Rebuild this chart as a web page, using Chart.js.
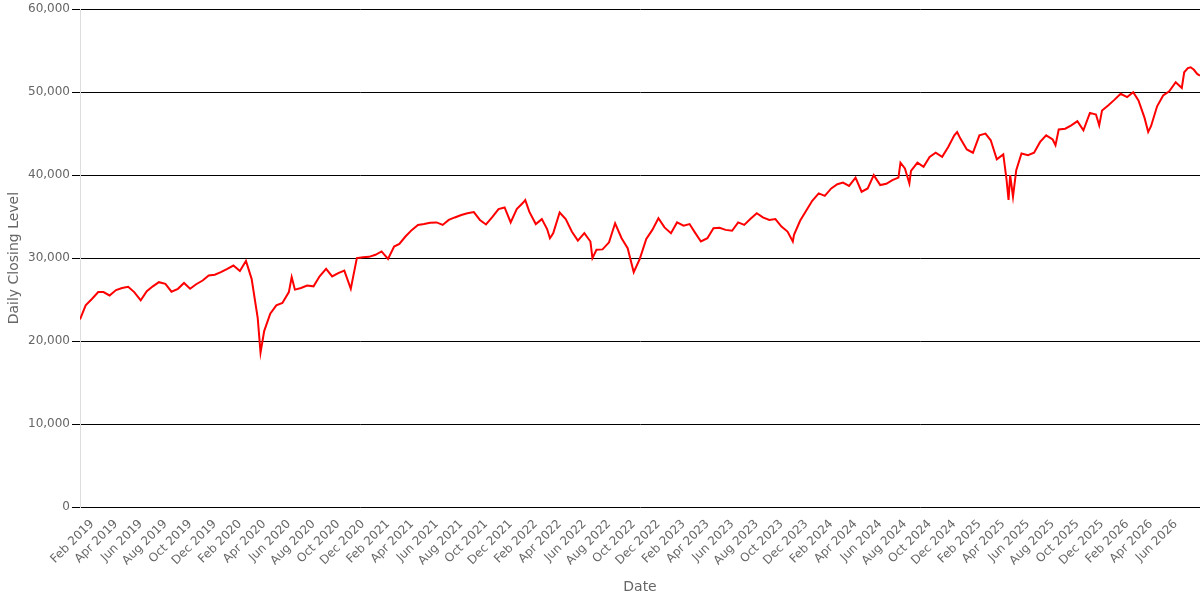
<!DOCTYPE html>
<html>
<head>
<meta charset="utf-8">
<script src="https://cdn.jsdelivr.net/npm/chart.js@4.4.1/dist/chart.umd.min.js"></script>
<style>
  html, body { margin: 0; padding: 0; background: #fff; }
  #wrap { width: 1200px; height: 600px; }
</style>
</head>
<body>
<div id="wrap"><canvas id="grafico"></canvas></div>
<script>
// fechas (semi-mensuales, con algunos puntos extra en los extremos) y cierres
const dates = [
  '2019-01-02','2019-01-16','2019-02-01','2019-02-16','2019-03-01','2019-03-16','2019-04-01','2019-04-16',
  '2019-05-01','2019-05-16','2019-06-01','2019-06-16','2019-07-01','2019-07-16','2019-08-01','2019-08-16',
  '2019-09-01','2019-09-16','2019-10-01','2019-10-16','2019-11-01','2019-11-16','2019-12-01','2019-12-16',
  '2020-01-01','2020-01-16','2020-02-01','2020-02-16','2020-03-01','2020-03-16','2020-03-23','2020-04-01',
  '2020-04-16','2020-05-01','2020-05-16','2020-06-01','2020-06-08','2020-06-16','2020-07-01','2020-07-16',
  '2020-08-01','2020-08-16','2020-09-01','2020-09-16','2020-10-01','2020-10-16','2020-11-01','2020-11-16',
  '2020-12-01','2020-12-16',
  '2021-01-01','2021-01-16','2021-02-01','2021-02-16','2021-03-01','2021-03-16','2021-04-01','2021-04-16',
  '2021-05-01','2021-05-16','2021-06-01','2021-06-16','2021-07-01','2021-07-16','2021-08-01','2021-08-16',
  '2021-09-01','2021-09-16','2021-10-01','2021-10-16','2021-11-01','2021-11-16','2021-12-01','2021-12-16',
  '2022-01-01','2022-01-06','2022-01-16','2022-02-01','2022-02-16','2022-03-01','2022-03-08','2022-03-16',
  '2022-04-01','2022-04-16','2022-05-01','2022-05-16','2022-06-01','2022-06-16','2022-06-21','2022-07-01',
  '2022-07-16','2022-08-01','2022-08-16','2022-09-01','2022-09-16','2022-10-01','2022-10-16','2022-11-01',
  '2022-11-16','2022-12-01','2022-12-16',
  '2023-01-01','2023-01-16','2023-02-01','2023-02-16','2023-03-01','2023-03-16','2023-04-01','2023-04-16',
  '2023-05-01','2023-05-16','2023-06-01','2023-06-16','2023-07-01','2023-07-16','2023-08-01','2023-08-16',
  '2023-09-01','2023-09-16','2023-10-01','2023-10-16','2023-10-29','2023-11-01','2023-11-16','2023-12-01',
  '2023-12-16',
  '2024-01-01','2024-01-16','2024-02-01','2024-02-16','2024-03-01','2024-03-16','2024-04-01','2024-04-16',
  '2024-05-01','2024-05-16','2024-06-01','2024-06-16','2024-07-01','2024-07-16','2024-07-21','2024-08-01',
  '2024-08-12','2024-08-16','2024-09-01','2024-09-16','2024-10-01','2024-10-16','2024-11-01','2024-11-16',
  '2024-12-01','2024-12-08','2024-12-16',
  '2025-01-01','2025-01-16','2025-02-01','2025-02-16','2025-03-01','2025-03-16','2025-04-01','2025-04-09',
  '2025-04-14','2025-04-18','2025-04-25','2025-05-03','2025-05-16','2025-06-01','2025-06-16','2025-07-01',
  '2025-07-16','2025-08-01','2025-08-08','2025-08-16','2025-09-01','2025-09-16','2025-10-01','2025-10-16',
  '2025-11-01','2025-11-16','2025-11-24','2025-12-01','2025-12-16',
  '2026-01-01','2026-01-16','2026-02-01','2026-02-16','2026-03-01','2026-03-16','2026-03-25','2026-04-01',
  '2026-04-16','2026-05-01','2026-05-16','2026-06-01','2026-06-16','2026-06-22','2026-07-01','2026-07-08',
  '2026-07-16','2026-07-24','2026-07-31'
];

const closes = [
  22600,24300,25100,25900,25900,25500,26150,26400,
  26550,25900,24900,26000,26600,27100,26900,25950,
  26300,27000,26300,26850,27300,27900,28000,28300,
  28700,29100,28450,29650,27500,22800,18600,21200,
  23300,24300,24600,25900,27700,26200,26400,26700,
  26600,27800,28700,27800,28200,28500,26300,30000,
  30100,30150,
  30400,30800,29900,31400,31700,32600,33400,34000,
  34100,34250,34300,34000,34600,34900,35200,35400,
  35550,34600,34050,34900,35900,36100,34300,35900,
  36700,37000,35600,34100,34700,33500,32400,33000,
  35500,34700,33200,32100,33000,32000,30000,31000,
  31050,31900,34200,32400,31200,28300,29900,32300,
  33400,34800,33700,
  33000,34300,33900,34100,33100,32000,32400,33600,
  33650,33400,33300,34300,34000,34700,35400,34900,
  34600,34700,33800,33200,32000,32800,34500,35700,
  36900,
  37800,37500,38400,38900,39100,38700,39700,38000,
  38400,40000,38800,38950,39400,39700,41500,40800,
  39000,40500,41500,41000,42200,42700,42200,43400,
  44800,45200,44400,
  43100,42700,44800,45000,44200,41900,42500,39500,
  37000,40000,37400,40600,42600,42400,42700,44000,
  44800,44300,43600,45500,45600,46000,46500,45400,
  47500,47300,46000,47800,48400,
  49100,49800,49400,50000,49000,46900,45200,45900,
  48300,49600,50100,51200,50500,52400,52900,53000,
  52700,52200,52000
];

const yTicks = [0, 10000, 20000, 30000, 40000, 50000, 60000];
const tickMonths = [1, 3, 5, 7, 9, 11]; // Feb, Apr, Jun, Aug, Oct, Dec
const monthNames = ['Jan','Feb','Mar','Apr','May','Jun','Jul','Aug','Sep','Oct','Nov','Dec'];

const points = dates.map((d, i) => ({ x: new Date(d).getTime(), y: closes[i] }));
const xMin = points[0].x;
const xMax = points[points.length - 1].x;

const grey = '#666666';
const fontFamily = "'DejaVu Sans', sans-serif";

function monthTicks() {
    const out = [];
    for (let y = new Date(xMin).getUTCFullYear(); y <= new Date(xMax).getUTCFullYear(); y++) {
        tickMonths.forEach(m => {
            const t = Date.UTC(y, m, 1);
            if (t >= xMin && t <= xMax) out.push({ value: t });
        });
    }
    return out;
}

new Chart(document.getElementById('grafico').getContext('2d'), {
    type: 'line',
    data: {
        datasets: [{
            label: 'Daily Closing Level',
            data: points,
            borderColor: '#ff0000',
            borderWidth: 2,
            pointRadius: 0,
            tension: 0,
            fill: false
        }]
    },
    options: {
        responsive: true,
        maintainAspectRatio: false,
        animation: false,
        layout: { padding: { top: 5, right: 0, left: 0, bottom: 0 } },
        plugins: {
            legend: { display: false },
            tooltip: { enabled: false }
        },
        scales: {
            x: {
                type: 'linear',
                min: xMin,
                max: xMax,
                afterBuildTicks: scale => { scale.ticks = monthTicks(); },
                grid: { display: false },
                border: { display: false },
                ticks: {
                    autoSkip: false,
                    maxRotation: 45,
                    minRotation: 45,
                    color: grey,
                    padding: 2,
                    font: { family: fontFamily, size: 12 },
                    callback: v => {
                        const d = new Date(v);
                        return monthNames[d.getUTCMonth()] + ' ' + d.getUTCFullYear();
                    }
                },
                title: {
                    display: true,
                    text: 'Date',
                    color: grey,
                    font: { family: fontFamily, size: 14 },
                    padding: { top: 4, bottom: 4 }
                },
                afterFit: scale => {
                    scale.height = 93;
                    scale.paddingLeft = 0;
                    scale.paddingRight = 0;
                }
            },
            y: {
                min: 0,
                max: 60000,
                afterBuildTicks: scale => { scale.ticks = yTicks.map(v => ({ value: v })); },
                grid: { color: '#000000', lineWidth: 1, tickLength: 8 },
                border: { color: '#dddddd' },
                ticks: {
                    color: grey,
                    padding: 2,
                    font: { family: fontFamily, size: 12 },
                    callback: v => v.toLocaleString('en-US')
                },
                title: {
                    display: true,
                    text: 'Daily Closing Level',
                    color: grey,
                    font: { family: fontFamily, size: 14 },
                    padding: { top: 6, bottom: 4 }
                },
                afterFit: scale => { scale.width = 80; }
            }
        }
    }
});
</script>
</body>
</html>
